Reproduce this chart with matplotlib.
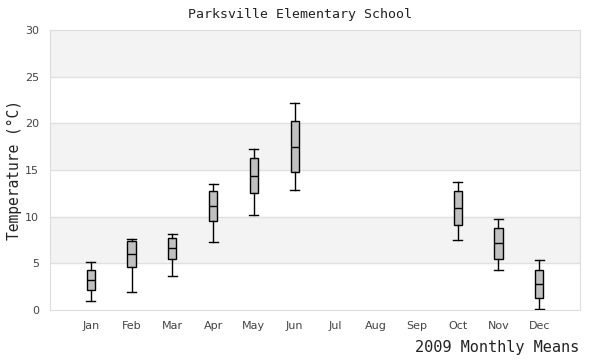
import matplotlib
matplotlib.use('Agg')
import matplotlib.pyplot as plt

months = ['Jan', 'Feb', 'Mar', 'Apr', 'May', 'Jun', 'Jul', 'Aug', 'Sep', 'Oct', 'Nov', 'Dec']
# box stats per month (None = no data)
whislo = [1.0, 1.9, 3.6, 7.25, 10.15, 12.9, None, None, None, 7.5, 4.3, 0.1]
q1 = [2.1, 4.57, 5.43, 9.5, 12.5, 14.75, None, None, None, 9.1, 5.5, 1.25]
med = [3.2, 6.0, 6.6, 11.1, 14.35, 17.5, None, None, None, 10.9, 7.2, 2.75]
q3 = [4.25, 7.36, 7.68, 12.7, 16.25, 20.3, None, None, None, 12.7, 8.75, 4.3]
whishi = [5.1, 7.57, 8.1, 13.5, 17.2, 22.15, None, None, None, 13.7, 9.7, 5.4]

fig = plt.figure(figsize=(6, 3.6), dpi=100)
ax = fig.add_axes([50/600, 50/360, 530/600, 280/360])

# alternating bands
for lo in range(0, 30, 5):
	if (lo // 5) % 2 == 1:
		ax.axhspan(lo, lo + 5, color='#f3f3f3', zorder=0, lw=0)
for y in range(5, 30, 5):
	ax.axhline(y, color='#e0e0e0', lw=1, zorder=1)

stats = []
pos = []
for i, m in enumerate(months):
	if med[i] is None:
		continue
	stats.append({'whislo': whislo[i], 'q1': q1[i], 'med': med[i], 'q3': q3[i],
		'whishi': whishi[i], 'fliers': []})
	pos.append(i + 1)

ax.bxp(stats, positions=pos, widths=0.2, patch_artist=True, showfliers=False,
	boxprops=dict(facecolor='#c0c0c0', edgecolor='black', lw=1),
	medianprops=dict(color='black', lw=1),
	whiskerprops=dict(color='black', lw=1),
	capprops=dict(color='black', lw=1), capwidths=0.22, zorder=3)

ax.set_xlim(0, 13)
ax.set_ylim(0, 30)
ax.set_xticks(range(1, 13))
ax.set_xticklabels(months)
ax.set_yticks(range(0, 31, 5))
ax.tick_params(length=0, labelsize=8, colors='#444444', pad=8)
for s in ax.spines.values():
	s.set_color('#dddddd')

ax.set_ylabel('Temperature (°C)', family='DejaVu Sans Mono', fontsize=10.5, color='#222222', labelpad=2)
fig.text(0.5, 0.96, 'Parksville Elementary School', family='DejaVu Sans Mono',
	fontsize=9.5, ha='center', va='center', color='#222222')
fig.text(0.965, 0.035, '2009 Monthly Means', family='DejaVu Sans Mono',
	fontsize=11, ha='right', va='center', color='#222222')

fig.savefig('out.png', dpi=100)
